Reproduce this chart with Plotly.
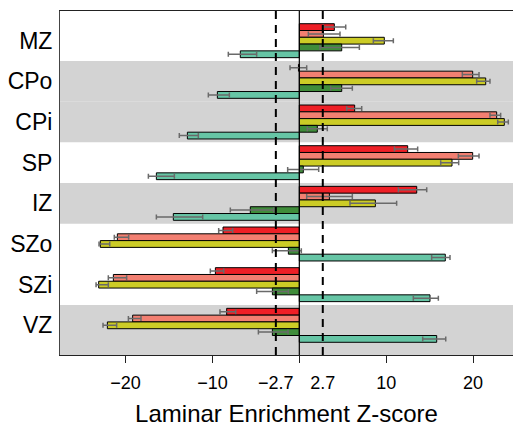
import plotly.graph_objects as go

categories = ["MZ", "CPo", "CPi", "SP", "IZ", "SZo", "SZi", "VZ"]
shaded = ["CPo", "CPi", "IZ", "VZ"]

red = [4.03, -0.1, 6.37, 12.47, 13.51, -8.78, -9.66, -8.36]
red_plus = [1.31, 0.95, 0.81, 1.15, 1.15, 1.11, 0.96, 1.04]
red_minus = [1.26, 0.97, 0.92, 1.53, 2.11, 0.5, 0.58, 0.77]

salmon = [2.77, 19.95, 22.71, 19.95, 3.46, -20.94, -21.4, -19.18]
salmon_plus = [1.91, 0.73, 0.46, 0.73, 2.64, 1.3, 1.53, 0.96]
salmon_minus = [1.73, 1.19, 0.77, 1.65, 2.61, 0.35, 0.58, 0.49]

yellow = [9.78, 21.45, 23.59, 17.57, 8.75, -22.9, -23.09, -22.09]
yellow_plus = [1.04, 0.49, 0.46, 0.77, 2.45, 1.08, 1.11, 1.07]
yellow_minus = [1.26, 1.04, 0.76, 1.3, 2.92, 0.15, 0.3, 0.5]

green = [4.88, 4.88, 2.07, 0.46, -5.64, -1.26, -3.1, -3.1]
green_plus = [2.03, 1.22, 1.15, 1.77, 2.69, 1.49, 1.84, 1.8]
green_minus = [2.5, 1.27, 1.15, 1.8, 2.3, 1.84, 1.81, 1.61]

teal = [-6.79, -9.43, -12.88, -16.45, -14.5, 16.8, 15.04, 15.81]
teal_plus = [1.88, 1.38, 1.26, 2.07, 3.38, 0.54, 0.96, 1.04]
teal_minus = [1.38, 1.04, 0.93, 0.92, 1.95, 1.57, 1.92, 1.61]

series = [
    (red, red_plus, red_minus, "#EE1F26"),
    (salmon, salmon_plus, salmon_minus, "#F27F71"),
    (yellow, yellow_plus, yellow_minus, "#CCCC26"),
    (green, green_plus, green_minus, "#3F8C3A"),
    (teal, teal_plus, teal_minus, "#66C5A5"),
]

threshold = 2.7
main_ticks = [-20, -10, -threshold, threshold, 10, 20]
main_ticktext = ["\u221220", "\u221210", "\u22122.7", "2.7", "10", "20"]
mark_ticks = [-20, -10, 0, 10, 20]

xrange = [-27.54, 24.59]
yrange = [len(categories) - 1 + 0.73, -0.73]

fig = go.Figure()
for vals, plus, minus, color in series:
    fig.add_trace(go.Bar(
        y=categories, x=vals, orientation="h",
        marker=dict(color=color, line=dict(color="black", width=1)),
        error_x=dict(type="data", symmetric=False, array=plus, arrayminus=minus,
                     color="#6A6A6A", thickness=1.5, width=2.5),
        showlegend=False, hoverinfo="skip",
    ))

fig.add_trace(go.Scatter(x=[None], y=[None], xaxis="x2", showlegend=False,
                         hoverinfo="skip", mode="markers"))

shapes = []
for c in shaded:
    i = categories.index(c)
    shapes.append(dict(type="rect", xref="paper", x0=0, x1=1, yref="y",
                       y0=i - 0.5, y1=i + 0.5 if i < len(categories) - 1 else i + 1,
                       fillcolor="#D3D3D3", line=dict(width=0), layer="below"))
for xv in [-threshold, threshold]:
    shapes.append(dict(type="line", xref="x", x0=xv, x1=xv, yref="paper", y0=0, y1=1,
                       line=dict(color="black", width=2, dash="8px,6px"), layer="above"))
shapes.append(dict(type="line", xref="x", x0=0, x1=0, yref="paper", y0=0, y1=1,
                   line=dict(color="black", width=1.2), layer="above"))

font = "Liberation Sans, Arial, Helvetica, sans-serif"
fig.update_layout(
    width=513, height=427,
    margin=dict(l=60, r=0, t=11, b=72, autoexpand=False),
    paper_bgcolor="white", plot_bgcolor="white",
    barmode="group", bargap=0.165, bargroupgap=0,
    shapes=shapes,
    font=dict(family=font, color="black"),
    xaxis=dict(range=xrange, tickvals=main_ticks, ticktext=main_ticktext,
               ticks="outside", ticklen=11, tickcolor="rgba(0,0,0,0)",
               tickfont=dict(size=18), showgrid=False, zeroline=False,
               showline=True, linecolor="#222", linewidth=1, mirror=True,
               automargin=False,
               title=dict(text="Laminar Enrichment Z-score", font=dict(size=24), standoff=16)),
    xaxis2=dict(range=xrange, overlaying="x", side="bottom", tickvals=mark_ticks,
                ticks="outside", ticklen=7, tickcolor="#222", showticklabels=False,
                showgrid=False, zeroline=False, showline=False, automargin=False),
    yaxis=dict(range=yrange, type="category", ticks="", tickfont=dict(size=23),
               showgrid=False, zeroline=False, showline=True, linecolor="#444",
               linewidth=1, ticklabelstandoff=2, automargin=False),
)

fig.write_html(
    "out.html",
    config={"displayModeBar": False, "staticPlot": True},
    post_script="document.body.style.margin='0';document.body.style.overflow='hidden';",
)
